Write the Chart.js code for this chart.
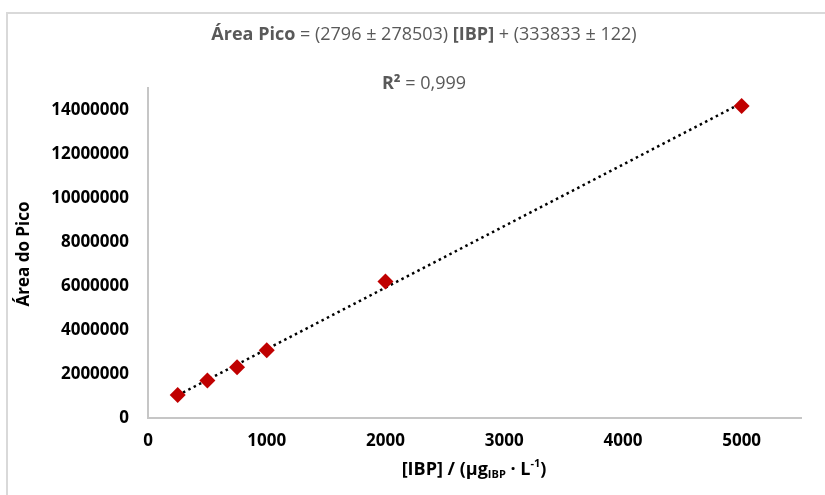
<!DOCTYPE html>
<html>
<head>
<meta charset="utf-8">
<title>Curva de calibração IBP</title>
<script src="https://cdn.jsdelivr.net/npm/chart.js@4.4.1/dist/chart.umd.min.js"></script>
<style>
  html, body { margin: 0; padding: 0; background: #fff; }
  #grafico { display: block; }
</style>
</head>
<body>
<canvas id="grafico" width="825" height="495"></canvas>
<script>
// padrões de calibração
var concentracoes = [250, 500, 750, 1000, 2000, 5000];
var areas = [1040000, 1700000, 2310000, 3080000, 6200000, 14180000];

// regressão linear mostrada no título
var inclinacao = 2796;
var intercepto = 333833;
var faixaTendencia = [250, 5000];

var ticksX = [0, 1000, 2000, 3000, 4000, 5000];
var ticksY = [0, 2000000, 4000000, 6000000, 8000000, 10000000, 12000000, 14000000];

var fonte = '"Open Sans", "Liberation Sans", sans-serif';
var cinza = '#595959';

function escreve(ctx, partes, cx, y) {
	var total = 0;
	partes.forEach(function (p) {
		ctx.font = p.font;
		p.w = ctx.measureText(p.text).width;
		total += p.w;
	});
	var x = cx - total / 2;
	ctx.textAlign = 'left';
	ctx.textBaseline = 'middle';
	partes.forEach(function (p) {
		ctx.font = p.font;
		ctx.fillStyle = p.color;
		ctx.fillText(p.text, x, y + (p.dy || 0));
		x += p.w;
	});
}

var textos = {
	id: 'textos',
	beforeDraw: function (chart) {
		var ctx = chart.ctx;
		ctx.save();
		ctx.strokeStyle = '#d9d9d9';
		ctx.lineWidth = 2;
		ctx.strokeRect(7, 13, 900, 600);
		ctx.restore();
	},
	afterDraw: function (chart) {
		var ctx = chart.ctx;
		var b = 'bold 18px ' + fonte;
		var n = '18px ' + fonte;
		ctx.save();
		escreve(ctx, [
			{ text: 'Área Pico', font: b, color: cinza },
			{ text: ' = (2796 ± 278503) ', font: n, color: cinza },
			{ text: '[IBP]', font: b, color: cinza },
			{ text: ' + (333833 ± 122)', font: n, color: cinza }
		], 424, 35);
		escreve(ctx, [
			{ text: 'R²', font: b, color: cinza },
			{ text: ' = 0,999', font: n, color: cinza }
		], 424, 84);

		var xb = 'bold 18px ' + fonte;
		var xs = 'bold 11px ' + fonte;
		escreve(ctx, [
			{ text: '[IBP] / (µg', font: xb, color: '#000' },
			{ text: 'IBP', font: xs, color: '#000', dy: 5 },
			{ text: ' · L', font: xb, color: '#000' },
			{ text: '-1', font: xs, color: '#000', dy: -6 },
			{ text: ')', font: xb, color: '#000' }
		], 474, 470);

		ctx.translate(24, 254);
		ctx.rotate(-Math.PI / 2);
		escreve(ctx, [{ text: 'Área do Pico', font: 'bold 17px ' + fonte, color: '#000' }], 0, 0);
		ctx.restore();
	}
};

var pontos = concentracoes.map(function (c, i) {
	return { x: c, y: areas[i] };
});
var tendencia = faixaTendencia.map(function (c) {
	return { x: c, y: inclinacao * c + intercepto };
});

new Chart(document.getElementById('grafico'), {
	type: 'scatter',
	data: {
		datasets: [{
			data: tendencia,
			type: 'line',
			showLine: true,
			borderColor: '#000',
			borderWidth: 2.5,
			borderDash: [2.5, 3.5],
			pointRadius: 0,
			fill: false,
			order: 2
		}, {
			data: pontos,
			pointStyle: 'rectRot',
			pointRadius: 8,
			pointBackgroundColor: '#c00000',
			pointBorderColor: '#c00000',
			pointBorderWidth: 0,
			order: 1
		}]
	},
	options: {
		responsive: false,
		animation: false,
		layout: { padding: { left: 0, right: 24, top: 88, bottom: 0 } },
		plugins: {
			legend: { display: false },
			tooltip: { enabled: false }
		},
		scales: {
			x: {
				type: 'linear',
				min: 0,
				max: 5500,
				grid: { display: false, drawTicks: false },
				border: { color: '#c6c6c6', width: 2 },
				ticks: {
					stepSize: 1000,
					padding: 13,
					color: '#000',
					font: { family: fonte, size: 17, weight: 'bold' },
					maxRotation: 0,
					callback: function (v) { return String(v); }
				},
				afterBuildTicks: function (scale) {
					scale.ticks = ticksX.map(function (v) { return { value: v }; });
				},
				afterFit: function (scale) { scale.height = 77; }
			},
			y: {
				type: 'linear',
				min: 0,
				max: 15000000,
				grid: { display: false, drawTicks: false },
				border: { color: '#c6c6c6', width: 2 },
				ticks: {
					stepSize: 2000000,
					padding: 19,
					color: '#000',
					font: { family: fonte, size: 17, weight: 'bold' },
					callback: function (v) { return String(v); }
				},
				afterBuildTicks: function (scale) {
					scale.ticks = ticksY.map(function (v) { return { value: v }; });
				},
				afterFit: function (scale) { scale.width = 148; }
			}
		}
	},
	plugins: [textos]
});
</script>
</body>
</html>
